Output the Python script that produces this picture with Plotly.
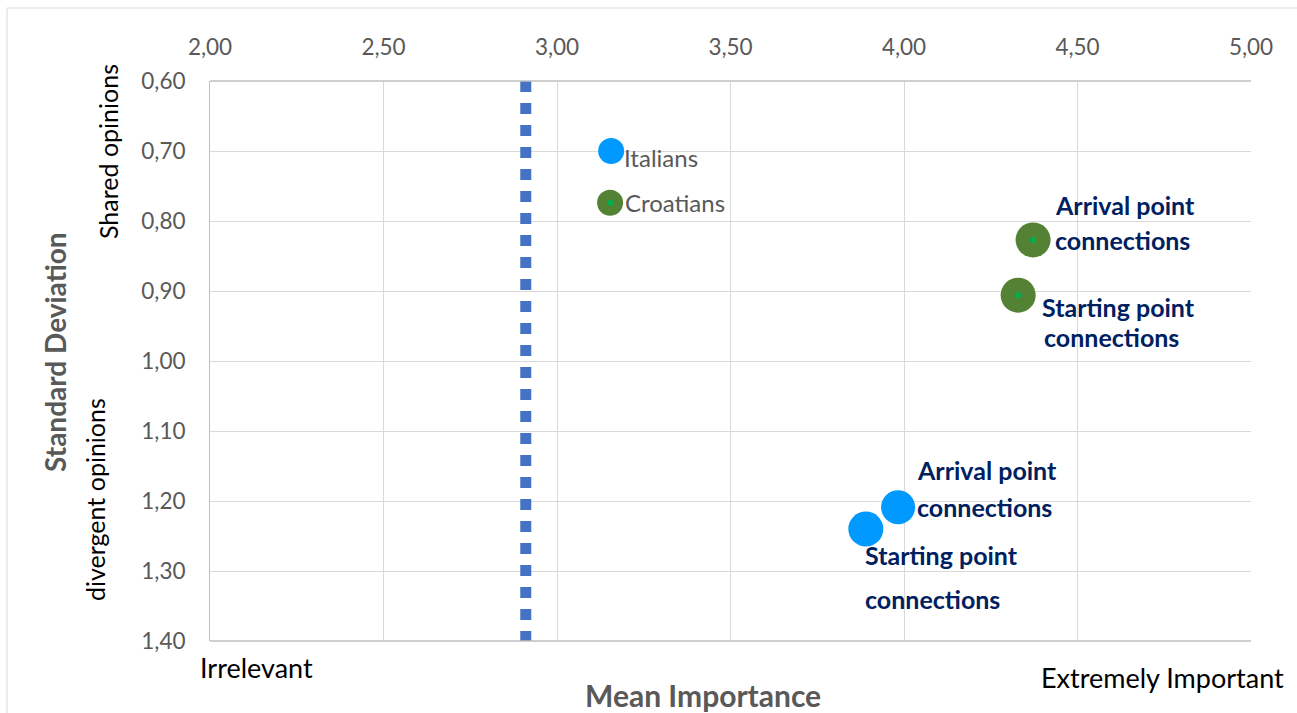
import plotly.graph_objects as go

# Mean importance (x) and standard deviation (y) per group and item
groups = ["Italians", "Croatians", "Croatians", "Croatians", "Italians", "Italians"]
labels = ["Italians", "Croatians", "Arrival point connections", "Starting point connections",
          "Arrival point connections", "Starting point connections"]
mean_importance = [3.156, 3.153, 4.372, 4.329, 3.983, 3.890]
std_deviation = [0.700, 0.774, 0.827, 0.906, 1.209, 1.240]
bubble_size = [26, 26, 35, 35, 34, 35]

# Threshold line on the mean-importance axis
threshold = 2.91

x_ticks = [2.0, 2.5, 3.0, 3.5, 4.0, 4.5, 5.0]
x_ticktext = ["2,00", "2,50", "3,00", "3,50", "4,00", "4,50", "5,00"]
y_ticks = [0.6, 0.7, 0.8, 0.9, 1.0, 1.1, 1.2, 1.3, 1.4]
y_ticktext = ["0,60", "0,70", "0,80", "0,90", "1,00", "1,10", "1,20", "1,30", "1,40"]

colors = {"Italians": "#0099FF", "Croatians": "#548235"}
FONT = "Lato"
GRAY = "#595959"
NAVY = "#002060"

W, H = 1297, 713
L, R, T, B = 210, 46, 81, 72
PW, PH = W - L - R, H - T - B


def px(xp):
    return (xp - L) / PW


def py(yp):
    return (H - B - yp) / PH


fig = go.Figure()

fig.add_trace(go.Scatter(
    x=mean_importance, y=std_deviation, mode="markers",
    marker=dict(size=bubble_size, color=[colors[g] for g in groups], opacity=1,
                line=dict(width=0)),
    hoverinfo="skip", showlegend=False,
))
# small inner marker on the Croatian bubbles
cro_x = [x for x, g in zip(mean_importance, groups) if g == "Croatians"]
cro_y = [y for y, g in zip(std_deviation, groups) if g == "Croatians"]
fig.add_trace(go.Scatter(
    x=cro_x, y=cro_y, mode="markers",
    marker=dict(size=6, color="#00B050", opacity=1), hoverinfo="skip", showlegend=False,
))

fig.add_shape(type="line", xref="x", yref="y", x0=threshold, x1=threshold, y0=0.6, y1=1.4,
              line=dict(color="#4472C4", width=11, dash="dot"), layer="above")

# point labels: (line text, x shift, y shift, style)
label_lines = [
    [("Italians", 11, -6, "plain")],
    [("Croatians", 13, 0, "plain")],
    [("Arrival point", 20, 35, "bold"), ("connections", 20, 0, "bold")],
    [("Starting point", 22, -12, "bold"), ("connections", 24, -42, "bold")],
    [("Arrival point", 17, 37, "bold"), ("connections", 17, 0, "bold")],
    [("Starting point", -3, -26, "bold"), ("connections", -3, -70, "bold")],
]
for x, y, lines in zip(mean_importance, std_deviation, label_lines):
    for text, dx, dy, style in lines:
        if style == "plain":
            font = dict(family=FONT, size=24, color=GRAY)
            t = text
        else:
            font = dict(family=FONT, size=25, color=NAVY)
            t = "<b>" + text + "</b>"
        fig.add_annotation(x=x, y=y, xref="x", yref="y", text=t, showarrow=False,
                           xanchor="left", yanchor="middle", xshift=dx, yshift=dy, font=font)

# axis titles and side notes
notes = [
    ("<b>Standard Deviation</b>", 55, 352, -90, 28, GRAY),
    ("Shared opinions", 108, 152, -90, 25, "#000000"),
    ("divergent opinions", 95, 500, -90, 25, "#000000"),
    ("<b>Mean Importance</b>", 703, 695, 0, 30, GRAY),
    ("Irrelevant", 256, 667, 0, 27, "#000000"),
    ("Extremely Important", 1162, 677, 0, 27, "#000000"),
]
for text, xp, yp, ang, size, col in notes:
    fig.add_annotation(x=px(xp), y=py(yp), xref="paper", yref="paper", text=text,
                       showarrow=False, textangle=ang, xanchor="center", yanchor="middle",
                       font=dict(family=FONT, size=size, color=col))

# chart frame
fig.add_shape(type="rect", xref="paper", yref="paper", x0=px(7), x1=px(1310), y0=py(8), y1=py(720),
              line=dict(color="#D9D9D9", width=1), layer="below")

fig.update_xaxes(range=[2, 5], side="top", tickvals=x_ticks, ticktext=x_ticktext,
                 showgrid=True, gridcolor="#D9D9D9", gridwidth=1, zeroline=False,
                 showline=False, ticks="outside", ticklen=16, tickcolor="rgba(0,0,0,0)",
                 tickfont=dict(family=FONT, size=22.5, color=GRAY))
fig.update_yaxes(range=[1.4, 0.6], tickvals=y_ticks, ticktext=y_ticktext,
                 showgrid=True, gridcolor="#D9D9D9", gridwidth=1, zeroline=False,
                 showline=True, linecolor="#BFBFBF", mirror=False,
                 ticks="outside", ticklen=19, tickcolor="rgba(0,0,0,0)",
                 tickfont=dict(family=FONT, size=22.5, color=GRAY))
fig.add_shape(type="line", xref="paper", yref="paper", x0=0, x1=1, y0=0, y1=0,
              line=dict(color="#BFBFBF", width=1.5))
fig.add_shape(type="line", xref="paper", yref="paper", x0=0, x1=1, y0=1, y1=1,
              line=dict(color="#BFBFBF", width=1.5))

fig.update_layout(width=W, height=H, margin=dict(l=L, r=R, t=T, b=B),
                  paper_bgcolor="white", plot_bgcolor="white", showlegend=False,
                  font=dict(family=FONT))

fig.write_html("out.html")
